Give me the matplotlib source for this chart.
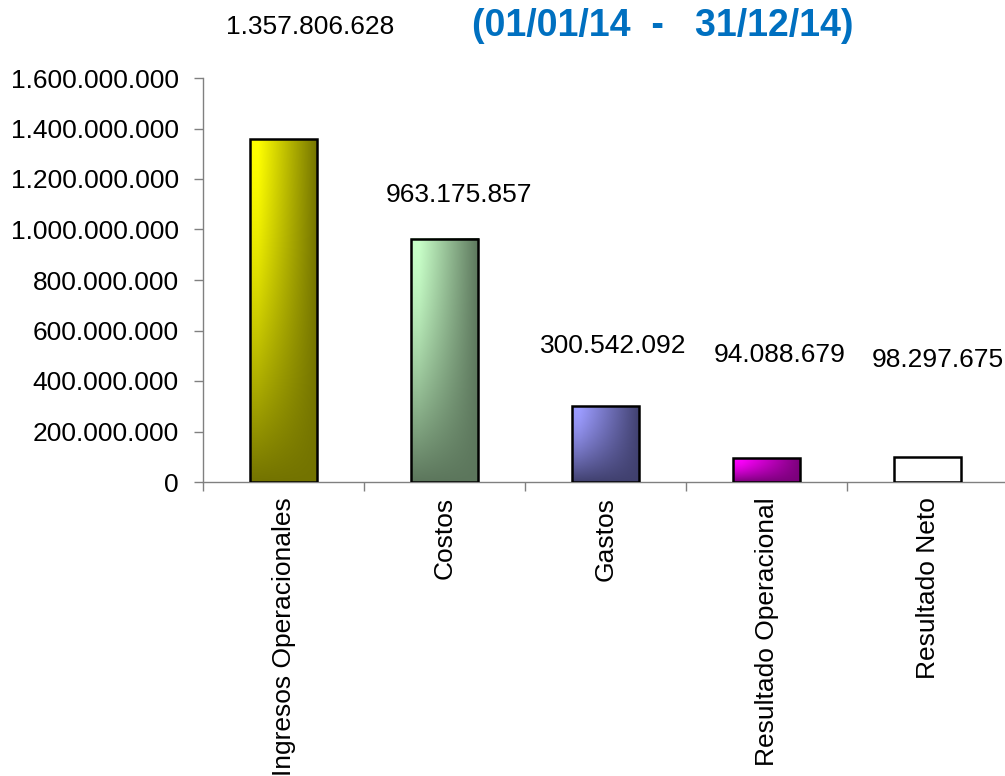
import numpy as np
import matplotlib
matplotlib.use("Agg")
import matplotlib.pyplot as plt
from matplotlib.colors import to_rgb

plt.rcParams["font.family"] = ["Liberation Sans", "DejaVu Sans"]

CATEGORIES = ["Ingresos Operacionales", "Costos", "Gastos",
              "Resultado Operacional", "Resultado Neto"]
VALUES = [1357806628, 963175857, 300542092, 94088679, 98297675]
Y_TICKS = [0, 200000000, 400000000, 600000000, 800000000,
           1000000000, 1200000000, 1400000000, 1600000000]
TITLE = "(01/01/14  -   31/12/14)"

# colores claro / oscuro de cada barra (degradado estilo Excel)
LIGHT = ["#ffff00", "#c8ffc8", "#9c9cff", "#ff00ff", "#ffffff"]
DARK = ["#737300", "#5c765c", "#40406e", "#7a007a", "#ffffff"]

# posicion de las etiquetas de valor (desplazamiento x, altura en datos)
LABEL_DX = [0.165, 0.09, 0.047, 0.08, 0.065]
LABEL_Y = [1.802e9, 1.137e9, 0.539e9, 0.503e9, 0.483e9]

BAR_W = 0.42
FS = 19


def fmt(v):
    return f"{v:,.0f}".replace(",", ".")


def gradient(light, dark, n=200):
    u = np.linspace(0, 1, n)[None, :]
    v = np.linspace(0, 1, n)[:, None]
    hx = np.clip((u - 0.12) / 0.88, 0, 1)
    t = 1 - (1 - hx) * (1 - v ** 1.6)
    c0 = np.array(to_rgb(light))
    c1 = np.array(to_rgb(dark))
    return c0[None, None, :] * (1 - t[..., None]) + c1[None, None, :] * t[..., None]


fig = plt.figure(figsize=(10.05, 7.76), dpi=100)
ax = fig.add_axes([203 / 1005, (776 - 482) / 776, 805 / 1005, 404 / 776])

x = np.arange(len(CATEGORIES))
bars = ax.bar(x, VALUES, width=BAR_W, facecolor="none",
              edgecolor="black", linewidth=1.8, zorder=3)

for i, b in enumerate(bars):
    x0, y0 = b.get_x(), b.get_y()
    w, h = b.get_width(), b.get_height()
    img = gradient(LIGHT[i], DARK[i])
    ax.imshow(img, extent=[x0, x0 + w, y0, y0 + h], origin="upper",
              aspect="auto", zorder=2, interpolation="bilinear")

for i, v in enumerate(VALUES):
    ax.text(i + LABEL_DX[i], LABEL_Y[i], fmt(v), ha="center", va="center",
            fontsize=FS, color="black", clip_on=False)

ax.set_xlim(-0.5, len(CATEGORIES) - 0.5)
ax.set_ylim(0, 1.6e9)

ax.set_yticks(Y_TICKS)
ax.set_yticklabels([fmt(t) for t in Y_TICKS], fontsize=FS)
ax.set_xticks(x)
ax.set_xticklabels(CATEGORIES, rotation=90, fontsize=FS, va="top")
ax.set_xticks(np.arange(-0.5, len(CATEGORIES) + 0.5, 1), minor=True)

ax.tick_params(axis="y", direction="out", length=6.5, width=1, color="#808080", pad=11)
ax.tick_params(axis="x", which="major", length=0, pad=11)
ax.tick_params(axis="x", which="minor", direction="out", length=6.5, width=1, color="#808080")

for side in ["top", "right"]:
    ax.spines[side].set_visible(False)
for side in ["left", "bottom"]:
    ax.spines[side].set_color("#808080")
    ax.spines[side].set_linewidth(1)

fig.text(663 / 1005, 1 - 26 / 776, TITLE, ha="center", va="center",
         fontsize=27, fontweight="bold", color="#0070c0")

fig.savefig("out.png", dpi=100)
